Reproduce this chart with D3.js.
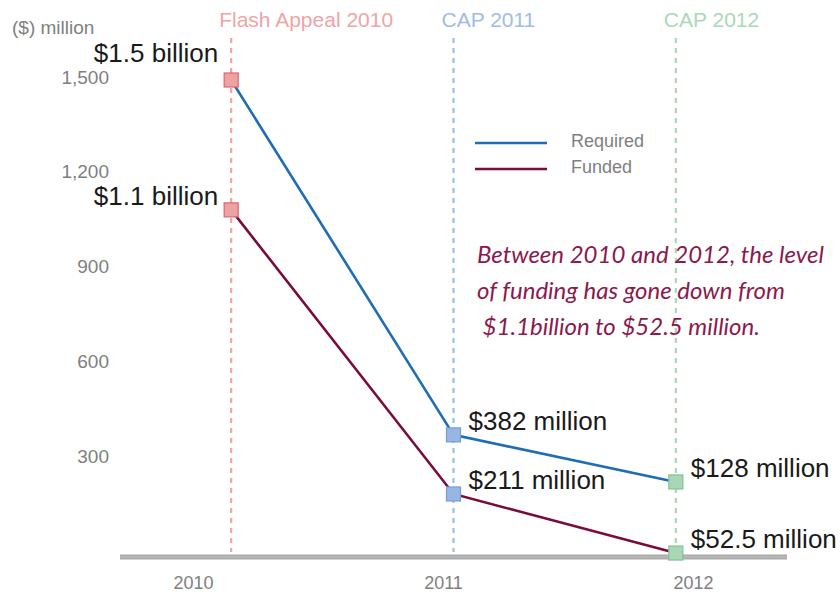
<!DOCTYPE html>
<html>
<head>
<meta charset="utf-8">
<script src="https://cdn.jsdelivr.net/npm/d3@7"></script>
<style>
  body { margin: 0; background: #fff; }
  svg { display: block; font-family: "Liberation Sans", Arial, sans-serif; }
</style>
</head>
<body>
<div id="chart"></div>
<script>
// data
const years = ["2010", "2011", "2012"];
const appeals = ["Flash Appeal 2010", "CAP 2011", "CAP 2012"];
const required = [1500, 377, 228];
const funded = [1089, 190, 3];
const requiredLabels = ["$1.5 billion", "$382 million", "$128 million"];
const fundedLabels = ["$1.1 billion", "$211 million", "$52.5 million"];
const yTicks = [300, 600, 900, 1200, 1500];
const noteLines = [
  "Between 2010 and 2012, the level",
  "of funding has gone down from",
  " $1.1billion to $52.5 million."
];

const width = 840, height = 595;

const svg = d3.select("#chart")
  .append("svg")
    .attr("width", width)
    .attr("height", height);

// colours per appeal year
const appealColor = d3.scaleOrdinal().domain(years).range(["#f0a4a6", "#9dbde7", "#a9d8b8"]);
const markerFill = d3.scaleOrdinal().domain(years).range(["#eda3a4", "#97b6e4", "#a9d6b5"]);
const markerStroke = d3.scaleOrdinal().domain(years).range(["#d9676c", "#729dd8", "#80c196"]);

const series = [
  { name: "Required", color: "#1f6db6", values: required, labels: requiredLabels },
  { name: "Funded", color: "#7b0a3d", values: funded, labels: fundedLabels }
];

var x = d3.scaleBand()
  .domain(years)
  .range([120, 787])
  .padding(0);
const cx = d => x(d) + x.bandwidth() / 2;

// year labels under the baseline sit a little apart from the markers
var xLabel = d3.scalePoint()
  .domain(years)
  .range([193, 693]);

var y = d3.scaleLinear()
  .domain([0, 1500])
  .range([554, 80]);

// y axis labels
svg.append("text")
  .attr("x", 12)
  .attr("y", 27)
  .attr("dy", "0.35em")
  .style("fill", "#808080")
  .style("font-size", "19px")
  .text("($) million");

const yAxis = svg.append("g")
  .attr("transform", "translate(109,-3)")
  .call(d3.axisLeft(y).tickValues(yTicks).tickFormat(d3.format(",")).tickSize(0).tickPadding(0));
yAxis.select(".domain").remove();
yAxis.selectAll("text")
  .style("fill", "#808080")
  .style("font-size", "19px")
  .style("font-family", "Liberation Sans, Arial, sans-serif");

// baseline
svg.append("line")
  .attr("x1", x.range()[0])
  .attr("x2", x.range()[1])
  .attr("y1", y(0) + 3)
  .attr("y2", y(0) + 3)
  .attr("stroke", "#a9a9aa")
  .style("stroke-width", 5);
svg.append("line")
  .attr("x1", x.range()[0])
  .attr("x2", x.range()[1])
  .attr("y1", y(0) + 3)
  .attr("y2", y(0) + 3)
  .attr("stroke", "#c4c4c4")
  .style("stroke-width", 1);

const xAxis = svg.append("g")
  .attr("transform", "translate(0," + (y(0) + 22) + ")")
  .call(d3.axisBottom(xLabel).tickSize(0).tickPadding(0));
xAxis.select(".domain").remove();
xAxis.selectAll("text")
  .style("fill", "#808080")
  .style("font-size", "18px")
  .style("font-family", "Liberation Sans, Arial, sans-serif");

// dotted appeal lines + headers
svg.selectAll("appealLines")
  .data(years)
  .enter()
  .append("line")
    .attr("x1", d => cx(d))
    .attr("x2", d => cx(d))
    .attr("y1", 38)
    .attr("y2", y(0) - 2)
    .attr("stroke", d => appealColor(d))
    .style("stroke-width", 2.2)
    .style("stroke-dasharray", "5, 5");

svg.selectAll("appealHeaders")
  .data(years)
  .enter()
  .append("text")
    .attr("x", d => cx(d) - 12)
    .attr("y", 20)
    .attr("dy", "0.35em")
    .style("fill", d => appealColor(d))
    .style("font-size", "21px")
    .text((d, i) => appeals[i]);

// lines
var line = d3.line()
  .x((d, i) => cx(years[i]))
  .y(d => y(d));

svg.selectAll("seriesLines")
  .data(series)
  .enter()
  .append("path")
    .attr("d", d => line(d.values))
    .attr("stroke", d => d.color)
    .style("stroke-width", 2.6)
    .style("fill", "none");

// square markers
const ms = 14;
series.forEach(function(s) {
  svg.selectAll("markers")
    .data(s.values)
    .enter()
    .append("rect")
      .attr("x", (d, i) => cx(years[i]) - ms / 2)
      .attr("y", d => y(d) - ms / 2)
      .attr("width", ms)
      .attr("height", ms)
      .attr("fill", (d, i) => markerFill(years[i]))
      .attr("stroke", (d, i) => markerStroke(years[i]))
      .style("stroke-width", 1.2);
});

// value labels
series.forEach(function(s) {
  svg.selectAll("valueLabels")
    .data(s.values)
    .enter()
    .append("text")
      .attr("x", (d, i) => i === 0 ? cx(years[i]) - 13 : cx(years[i]) + 15)
      .attr("y", (d, i) => y(d) - ((i === 0 && s.name === "Required") ? 27 : 14))
      .attr("dy", "0.35em")
      .attr("text-anchor", (d, i) => i === 0 ? "end" : "start")
      .style("fill", "#1a1a1a")
      .style("font-size", "26px")
      .text((d, i) => s.labels[i]);
});

// legend
const legend = svg.selectAll("legendItems")
  .data(series)
  .enter()
  .append("g")
    .attr("transform", (d, i) => "translate(475," + (143 + i * 26) + ")");
legend.append("line")
  .attr("x1", 0)
  .attr("x2", 72)
  .attr("stroke", d => d.color)
  .style("stroke-width", 2.6);
legend.append("text")
  .attr("x", 96)
  .attr("y", -2)
  .attr("dy", "0.35em")
  .style("fill", "#808080")
  .style("font-size", "18px")
  .text(d => d.name);

// note
svg.append("text")
  .attr("x", 477)
  .attr("y", 255)
  .style("fill", "#8a1a4e")
  .style("font-family", "Lato, 'Open Sans', sans-serif")
  .style("font-style", "italic")
  .style("font-size", "24px")
  .selectAll("tspan")
  .data(noteLines)
  .enter()
  .append("tspan")
    .attr("x", 477)
    .attr("dy", (d, i) => i === 0 ? "0.35em" : 36)
    .attr("xml:space", "preserve")
    .style("white-space", "pre")
    .text(d => d);
</script>
</body>
</html>
